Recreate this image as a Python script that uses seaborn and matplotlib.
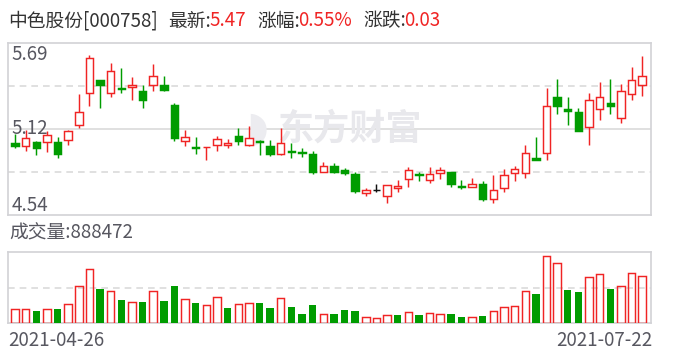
import matplotlib
matplotlib.use("Agg")
import matplotlib.pyplot as plt
import numpy as np
import pandas as pd
import seaborn as sns

# ---------------- data ----------------
title_name = "中色股份[000758]"
latest = "5.47"
pct_change = "0.55%"
abs_change = "0.03"
volume_label = "成交量:888472"
date_labels = ["2021-04-26", "2021-07-22"]
price_ticks = ["5.69", "5.12", "4.54"]
price_min, price_max = 4.54, 5.69
prev_close_before = 4.99

opens = [5.02, 5.00, 5.03, 5.025, 5.03, 5.04, 5.14, 5.355, 5.44, 5.355,
         5.39, 5.395, 5.365, 5.41, 5.405, 5.275, 5.035, 4.995, 4.995, 5.005,
         5.01, 5.07, 5.01, 5.035, 5.00, 4.95, 4.965, 4.96, 4.945, 4.83,
         4.865, 4.84, 4.815, 4.69, 4.705, 4.67, 4.72, 4.78, 4.815, 4.775,
         4.82, 4.825, 4.735, 4.73, 4.745, 4.65, 4.72, 4.82, 4.82, 4.92,
         4.955, 5.325, 5.245, 5.23, 5.125, 5.25, 5.285, 5.185, 5.35, 5.41]
highs = [5.08, 5.11, 5.035, 5.10, 5.06, 5.11, 5.35, 5.61, 5.44, 5.555,
         5.52, 5.46, 5.405, 5.545, 5.465, 5.29, 5.11, 5.06, 4.995, 5.07,
         5.05, 5.12, 5.135, 5.04, 5.04, 5.12, 5.02, 4.985, 4.965, 4.895,
         4.89, 4.855, 4.825, 4.72, 4.745, 4.74, 4.775, 4.86, 4.83, 4.86,
         4.86, 4.825, 4.775, 4.785, 4.765, 4.805, 4.845, 4.865, 5.005, 5.06,
         5.385, 5.445, 5.325, 5.255, 5.355, 5.425, 5.445, 5.415, 5.525, 5.60]
lows = [4.99, 4.97, 4.94, 4.96, 4.92, 5.01, 5.12, 5.27, 5.255, 5.33,
        5.355, 5.31, 5.255, 5.37, 5.37, 5.035, 5.00, 4.95, 4.91, 4.965,
        4.985, 5.01, 5.00, 4.94, 4.935, 4.94, 4.92, 4.93, 4.815, 4.83,
        4.82, 4.81, 4.69, 4.67, 4.695, 4.62, 4.695, 4.73, 4.77, 4.755,
        4.78, 4.725, 4.715, 4.73, 4.635, 4.62, 4.695, 4.77, 4.79, 4.91,
        4.905, 5.215, 5.14, 5.10, 5.01, 5.175, 5.215, 5.155, 5.31, 5.335]
closes = [5.00, 5.055, 4.99, 5.075, 4.95, 5.10, 5.23, 5.585, 5.41, 5.50,
          5.38, 5.405, 5.31, 5.465, 5.375, 5.055, 5.06, 4.985, 4.995, 5.05,
          5.02, 5.035, 5.055, 5.025, 4.95, 5.02, 4.96, 4.955, 4.83, 4.865,
          4.83, 4.82, 4.70, 4.705, 4.705, 4.74, 4.735, 4.84, 4.81, 4.815,
          4.84, 4.75, 4.73, 4.745, 4.65, 4.705, 4.81, 4.845, 4.955, 4.91,
          5.265, 5.27, 5.235, 5.10, 5.31, 5.325, 5.27, 5.365, 5.44, 5.47]
volumes = [265000, 265000, 233000, 265000, 271000, 359000, 699000, 1021000, 649000, 605000,
           441000, 403000, 403000, 605000, 422000, 706000, 454000, 384000, 340000, 491000,
           290000, 359000, 378000, 384000, 290000, 473000, 309000, 176000, 347000, 170000,
           170000, 252000, 233000, 113000, 95000, 151000, 158000, 208000, 151000, 189000,
           170000, 176000, 120000, 113000, 139000, 227000, 302000, 321000, 605000, 554000,
           1273000, 1134000, 630000, 592000, 870000, 933000, 649000, 699000, 945000, 888472]
volume_axis_max = 1353000

RED = "#f02424"
GREEN = "#009c00"
BLACK = "#111111"
GRID = "#dadada"
FRAME = "#d2d2d6"
TXT = "#333333"
AX_TXT = "#575760"

# ---------------- derived ----------------
n = len(closes)
idx = np.arange(n)
prev = [prev_close_before] + closes[:-1]
candle_colors = []
for o, c, p in zip(opens, closes, prev):
    if c > o:
        candle_colors.append(RED)
    elif c < o:
        candle_colors.append(GREEN)
    else:
        candle_colors.append(RED if c > p else (GREEN if c < p else BLACK))
vol_up = [c >= p for c, p in zip(closes, prev)]

df = pd.DataFrame({"idx": idx, "vol": volumes, "up": vol_up})

sns.set_theme(style="white")
plt.rcParams["font.family"] = ["Noto Sans CJK SC", "DejaVu Sans"]

fig = plt.figure(figsize=(6.88, 3.6), dpi=100)
W, H = 688, 360
axp = fig.add_axes([8 / W, 1 - 215 / H, 643 / W, 172.3 / H])
axv = fig.add_axes([8 / W, 1 - 323.3 / H, 643 / W, 71.6 / H])

xlim = (-0.66, n - 0.17)

# ---------------- price panel ----------------
axp.set_xlim(*xlim)
axp.set_ylim(price_min, price_max)
span = price_max - price_min
axp.axhline(price_min + span * 0.5, color=GRID, lw=1.2, zorder=0)
for q in (0.25, 0.75):
    axp.axhline(price_min + span * q, color=GRID, lw=1.2, ls=(0, (4, 3)), zorder=0)

# watermark
axp.text(0.532, 0.50, "东方财富", transform=axp.transAxes, ha="center", va="center",
         fontsize=26, fontweight="bold", color="#e8e8ec", zorder=0)
axp.text(0.388, 0.50, "◗", transform=axp.transAxes, ha="center", va="center",
         fontsize=30, color="#ececf0", zorder=0, family=["DejaVu Sans"])

bw = 0.7
for i in range(n):
    col = candle_colors[i]
    axp.vlines(i, lows[i], highs[i], color=col, lw=1.05, zorder=2)
    lo, hi = min(opens[i], closes[i]), max(opens[i], closes[i])
    hollow = closes[i] > opens[i]
    axp.bar(i, max(hi - lo, 0.0005), bottom=lo, width=bw,
            facecolor="white" if hollow else col, edgecolor=col, lw=1.05, zorder=3)

for s in axp.spines.values():
    s.set_color(FRAME)
    s.set_linewidth(1.2)
axp.set_xticks([])
axp.set_yticks([])

tick_font = dict(fontsize=13.5, color=AX_TXT)
axp.text(0.005, 0.99, price_ticks[0], transform=axp.transAxes, ha="left", va="top", **tick_font, zorder=5)
axp.text(0.005, 0.5, price_ticks[1], transform=axp.transAxes, ha="left", va="center", **tick_font, zorder=5)
axp.text(0.005, -0.005, price_ticks[2], transform=axp.transAxes, ha="left", va="bottom", **tick_font, zorder=5)

# ---------------- volume panel ----------------
sns.barplot(data=df[df.up], x="idx", y="vol", native_scale=True, fill=False,
            color=RED, saturation=1, width=bw, errorbar=None, linewidth=1.05,
            ax=axv, legend=False, zorder=3)
sns.barplot(data=df[~df.up], x="idx", y="vol", native_scale=True,
            color=GREEN, saturation=1, width=bw, errorbar=None, linewidth=0,
            ax=axv, legend=False, zorder=3)
axv.set_xlim(*xlim)
axv.set_ylim(0, volume_axis_max)
axv.axhline(volume_axis_max / 2, color=GRID, lw=1.2, ls=(0, (4, 3)), zorder=0)
for s in axv.spines.values():
    s.set_color(FRAME)
    s.set_linewidth(1.2)
axv.set_xticks([])
axv.set_yticks([])
axv.set_xlabel("")
axv.set_ylabel("")

# ---------------- texts ----------------
fs = 13.5
yt = 1 - 21 / H
fig.text(8 / W, yt, title_name, ha="left", va="center", fontsize=fs, color=TXT)
fig.text(168 / W, yt, "最新:", ha="left", va="center", fontsize=fs, color=TXT)
fig.text(209 / W, yt, latest, ha="left", va="center", fontsize=fs, color=RED)
fig.text(257 / W, yt, "涨幅:", ha="left", va="center", fontsize=fs, color=TXT)
fig.text(298 / W, yt, pct_change, ha="left", va="center", fontsize=fs, color=RED)
fig.text(363 / W, yt, "涨跌:", ha="left", va="center", fontsize=fs, color=TXT)
fig.text(404 / W, yt, abs_change, ha="left", va="center", fontsize=fs, color=RED)

fig.text(9 / W, 1 - 233 / H, volume_label, ha="left", va="center", fontsize=fs, color=AX_TXT)
fig.text(8 / W, 1 - 341 / H, date_labels[0], ha="left", va="center", fontsize=fs, color=AX_TXT)
fig.text(652 / W, 1 - 341 / H, date_labels[1], ha="right", va="center", fontsize=fs, color=AX_TXT)

fig.savefig("out.png", dpi=100)
